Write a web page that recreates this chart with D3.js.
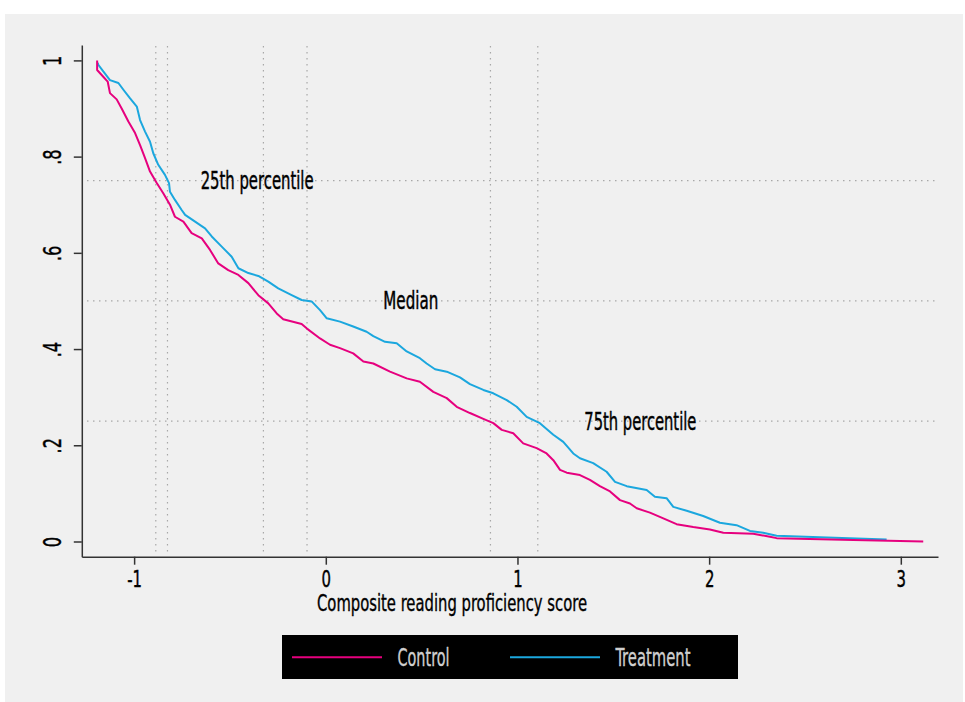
<!DOCTYPE html>
<html>
<head>
<meta charset="utf-8">
<script src="https://cdn.jsdelivr.net/npm/d3@7"></script>
<style>
  html, body { margin: 0; padding: 0; background: #ffffff; }
  svg { display: block; }
  text { font-family: "Liberation Sans Narrow", "DejaVu Sans Condensed", "Roboto Condensed", sans-serif; }
</style>
</head>
<body>
<svg id="chart" width="965" height="702"></svg>
<script>
// ---------------- DATA ----------------
const seriesNames = ["Control", "Treatment"];
const xTicks = [-1, 0, 1, 2, 3];
const xTickLabels = ["-1", "0", "1", "2", "3"];
const yTicks = [0, 0.2, 0.4, 0.6, 0.8, 1];
const yTickLabels = ["0", ".2", ".4", ".6", ".8", "1"];
const percentileLevels = [0.75, 0.5, 0.25];
const percentileLabels = ["25th percentile", "Median", "75th percentile"];
const percentileLabelX = [-0.653, 0.30, 1.349];
const controlQuantiles = [-0.887, -0.3255, 0.859];
const treatmentQuantiles = [-0.826, -0.098, 1.106];

// Survival curves: share of students scoring above x
const controlPoints = [
  [-1.193,1.0],[-1.193,0.98],[-1.161,0.966],[-1.138,0.956],[-1.126,0.932],[-1.091,0.919],
  [-1.065,0.900],[-1.030,0.873],[-0.995,0.849],[-0.969,0.824],[-0.943,0.797],[-0.917,0.769],
  [-0.882,0.745],[-0.848,0.724],[-0.813,0.700],[-0.787,0.675],[-0.743,0.665],[-0.700,0.641],
  [-0.647,0.630],[-0.604,0.606],[-0.561,0.578],[-0.509,0.564],[-0.456,0.554],[-0.404,0.537],
  [-0.352,0.512],[-0.300,0.495],[-0.256,0.474],[-0.222,0.462],[-0.126,0.452],[-0.100,0.443],
  [-0.030,0.422],[0.022,0.409],[0.074,0.402],[0.143,0.391],[0.196,0.374],[0.248,0.370],
  [0.335,0.353],[0.422,0.339],[0.491,0.332],[0.561,0.311],[0.631,0.298],[0.683,0.280],
  [0.752,0.267],[0.822,0.255],[0.874,0.246],[0.918,0.232],[0.978,0.225],[1.030,0.204],
  [1.100,0.194],[1.152,0.183],[1.187,0.169],[1.222,0.149],[1.257,0.143],[1.326,0.138],
  [1.378,0.128],[1.430,0.115],[1.483,0.104],[1.535,0.086],[1.587,0.079],[1.622,0.069],
  [1.691,0.060],[1.761,0.048],[1.830,0.036],[1.917,0.030],[2.004,0.025],[2.074,0.018],
  [2.230,0.016],[2.317,0.010],[2.352,0.007],[2.752,0.003],[3.117,0.0]
];
const treatmentPoints = [
  [-1.190,0.995],[-1.187,0.991],[-1.161,0.977],[-1.126,0.959],[-1.082,0.953],[-1.056,0.939],
  [-1.021,0.921],[-0.986,0.904],[-0.969,0.876],[-0.943,0.852],[-0.917,0.831],[-0.900,0.807],
  [-0.874,0.783],[-0.839,0.762],[-0.818,0.745],[-0.813,0.727],[-0.787,0.710],[-0.752,0.689],
  [-0.734,0.679],[-0.682,0.665],[-0.630,0.651],[-0.595,0.634],[-0.543,0.613],[-0.491,0.592],
  [-0.456,0.568],[-0.404,0.558],[-0.352,0.552],[-0.300,0.540],[-0.248,0.526],[-0.178,0.512],
  [-0.126,0.502],[-0.074,0.499],[-0.030,0.481],[0.005,0.464],[0.074,0.457],[0.143,0.447],
  [0.213,0.436],[0.248,0.427],[0.309,0.415],[0.370,0.412],[0.422,0.395],[0.491,0.381],
  [0.526,0.370],[0.570,0.358],[0.631,0.353],[0.700,0.341],[0.752,0.327],[0.822,0.315],
  [0.874,0.308],[0.944,0.294],[0.996,0.280],[1.048,0.259],[1.117,0.246],[1.187,0.222],
  [1.239,0.207],[1.291,0.183],[1.326,0.173],[1.395,0.163],[1.465,0.145],[1.509,0.124],
  [1.570,0.115],[1.674,0.107],[1.717,0.093],[1.778,0.090],[1.813,0.072],[1.883,0.064],
  [1.969,0.053],[2.056,0.039],[2.143,0.034],[2.213,0.022],[2.282,0.018],[2.352,0.012],
  [2.578,0.009],[2.926,0.004]
];
const seriesColors = ["#e6007e", "#1ba7de"];

// ---------------- LAYOUT ----------------
const svg = d3.select("#chart");
svg.append("rect").attr("x", 5).attr("y", 14).attr("width", 958).attr("height", 688).attr("fill", "#f0f0f0");

const x = d3.scaleLinear().domain([-1.273, 3.194]).range([81.8, 938]);
const y = d3.scaleLinear().domain([-0.0316, 1.032]).range([556.7, 45]);

// reference lines (dotted)
const grid = svg.append("g").attr("stroke", "#a8a8a8").attr("stroke-width", 1.2).attr("stroke-dasharray", "1.5,4.5").attr("fill", "none");
percentileLevels.forEach(v => {
  grid.append("line").attr("x1", 87).attr("x2", 936).attr("y1", y(v)).attr("y2", y(v));
});
controlQuantiles.concat(treatmentQuantiles).forEach(v => {
  grid.append("line").attr("x1", x(v)).attr("x2", x(v)).attr("y1", 46).attr("y2", 553);
});

// curves
const line = d3.line().x(d => x(d[0])).y(d => y(d[1]));
svg.append("path").datum(treatmentPoints).attr("d", line).attr("fill", "none")
  .attr("stroke", seriesColors[1]).attr("stroke-width", 2).attr("stroke-linejoin", "round");
svg.append("path").datum(controlPoints).attr("d", line).attr("fill", "none")
  .attr("stroke", seriesColors[0]).attr("stroke-width", 2).attr("stroke-linejoin", "round");

// annotations
percentileLabels.forEach((t, i) => {
  svg.append("text").attr("x", x(percentileLabelX[i])).attr("y", y(percentileLevels[i]) + 8.5)
    .attr("font-size", 25).attr("fill", "#000").attr("stroke", "#000").attr("stroke-width", 0.45)
    .attr("textLength", [113, 55, 112][i]).attr("lengthAdjust", "spacingAndGlyphs")
    .text(t);
});

// axes
const xAxis = d3.axisBottom(x).tickValues(xTicks).tickFormat((d, i) => xTickLabels[i]).tickSize(8).tickSizeOuter(0);
const gx = svg.append("g").attr("transform", "translate(0,556.7)").call(xAxis);
gx.select(".domain").attr("stroke", "#333").attr("stroke-width", 1.5);
gx.selectAll(".tick line").attr("stroke", "#333").attr("stroke-width", 1.5);
gx.selectAll(".tick text").attr("font-size", 23).attr("fill", "#000").attr("dy", 0).attr("y", 0)
  .attr("stroke", "#000").attr("stroke-width", 0.4)
  .attr("transform", "translate(0,30) scale(0.72,1)")
  .attr("font-family", "Liberation Sans Narrow, DejaVu Sans Condensed, sans-serif");

const yAxis = d3.axisLeft(y).tickValues(yTicks).tickFormat((d, i) => yTickLabels[i]).tickSize(8).tickSizeOuter(0);
const gy = svg.append("g").attr("transform", "translate(81.8,0)").call(yAxis);
gy.select(".domain").attr("stroke", "#333").attr("stroke-width", 1.5);
gy.selectAll(".tick line").attr("stroke", "#333").attr("stroke-width", 1.5);
gy.selectAll(".tick text").attr("font-size", 24).attr("fill", "#000")
  .attr("stroke", "#000").attr("stroke-width", 0.4)
  .attr("x", null).attr("dy", null).attr("text-anchor", "middle")
  .attr("transform", "translate(-20.5,0) rotate(-90) scale(0.75,1)")
  .attr("font-family", "Liberation Sans Narrow, DejaVu Sans Condensed, sans-serif");

// axis title
svg.append("text").attr("x", 452).attr("y", 611).attr("text-anchor", "middle")
  .attr("font-size", 23).attr("fill", "#000").attr("stroke", "#000").attr("stroke-width", 0.35)
  .attr("textLength", 270).attr("lengthAdjust", "spacingAndGlyphs")
  .text("Composite reading proficiency score");

// legend
const lg = svg.append("g");
lg.append("rect").attr("x", 282).attr("y", 635).attr("width", 456).attr("height", 44).attr("fill", "#000");
const legX = [292, 510];
const legTextW = [52, 75];
seriesNames.forEach((n, i) => {
  lg.append("line").attr("x1", legX[i]).attr("x2", legX[i] + 90).attr("y1", 657.3).attr("y2", 657.3)
    .attr("stroke", seriesColors[i]).attr("stroke-width", 2);
  lg.append("text").attr("x", legX[i] + 105.5).attr("y", 665.5).attr("font-size", 25).attr("fill", "#cfcfcf")
    .attr("stroke", "#cfcfcf").attr("stroke-width", 0.35)
    .attr("textLength", legTextW[i]).attr("lengthAdjust", "spacingAndGlyphs").text(n);
});
</script>
</body>
</html>
